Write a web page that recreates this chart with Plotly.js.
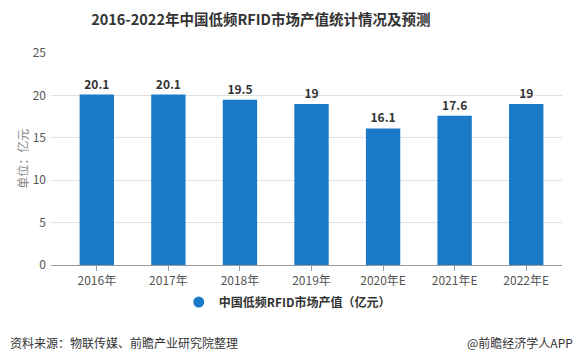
<!DOCTYPE html>
<html>
<head>
<meta charset="utf-8">
<script src="https://cdn.plot.ly/plotly-3.0.1.min.js"></script>
<style>html,body{margin:0;padding:0;background:#fff;}#chart{width:577px;height:364px;}</style>
</head>
<body>
<div id="chart"></div>
<script>
var categories = ["2016年","2017年","2018年","2019年","2020年E","2021年E","2022年E"];
var values = [20.1, 20.1, 19.5, 19, 16.1, 17.6, 19];
var valueLabels = ["20.1","20.1","19.5","19","16.1","17.6","19"];
var yTicks = [0, 5, 10, 15, 20, 25];
var seriesName = "中国低频RFID市场产值（亿元）";

var font = "'Microsoft YaHei','Noto Sans CJK SC',sans-serif";
var color = "#1a7ac8";
var trace = {
  type: "bar",
  x: categories,
  y: values,
  name: seriesName,
  showlegend: false,
  width: 0.48,
  marker: {color: color},
  text: valueLabels,
  textposition: "outside",
  cliponaxis: false,
  textfont: {family: font, size: 12, color: "#333", weight: "bold"},
  hoverinfo: "none"
};
var legendTrace = {
  type: "scatter", mode: "markers",
  x: [null], y: [null],
  name: seriesName,
  marker: {color: color, size: 11, symbol: "circle"},
  showlegend: true, hoverinfo: "none"
};
var layout = {
  width: 577, height: 364,
  margin: {l: 51, r: 15, t: 53, b: 99},
  paper_bgcolor: "#fff", plot_bgcolor: "#fff",
  title: {text: "<b>2016-2022年中国低频RFID市场产值统计情况及预测</b>", xref: "container", x: 0.452, xanchor: "center", y: 0.945, yanchor: "middle",
          font: {family: font, size: 14.5, color: "#333"}},
  showlegend: true,
  legend: {orientation: "h", x: 0.25, xanchor: "left", y: -0.175, yanchor: "middle",
           font: {family: font, size: 12, color: "#333", weight: "bold"}, itemwidth: 30},
  bargap: 0.5,
  xaxis: {range: [-0.64, 6.5], type: "category", showgrid: false, showline: true, linecolor: "#999", linewidth: 1,
          ticks: "outside", ticklen: 5, tickcolor: "#999",
          tickfont: {family: font, size: 12, color: "#555"}},
  yaxis: {range: [0, 25], tickvals: yTicks, showgrid: true, gridcolor: "#e0e0e0", zeroline: false,
          tickfont: {family: font, size: 12, color: "#555"}, ticks: "", ticklabelstandoff: 4},
  annotations: [
    {text: "单位：亿元", xref: "paper", yref: "paper", x: -0.057, y: 0.5, xanchor: "center", yanchor: "middle", textangle: -90,
     showarrow: false, font: {family: font, size: 12, color: "#888"}},
    {text: "资料来源：物联传媒、前瞻产业研究院整理", xref: "paper", yref: "paper", x: -0.085, y: -0.365, xanchor: "left", yanchor: "middle",
     showarrow: false, font: {family: font, size: 12, color: "#333"}},
    {text: "@前瞻经济学人APP", xref: "paper", yref: "paper", x: 1.025, y: -0.365, xanchor: "right", yanchor: "middle",
     showarrow: false, font: {family: font, size: 12, color: "#333"}}
  ]
};
Plotly.newPlot("chart", [trace, legendTrace], layout, {displayModeBar: false, staticPlot: true});
</script>
</body>
</html>
